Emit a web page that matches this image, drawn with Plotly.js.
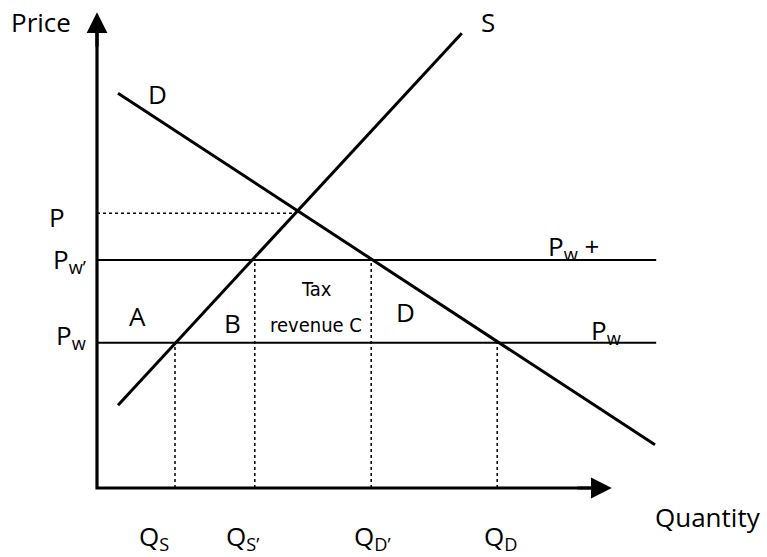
<!DOCTYPE html>
<html>
<head>
<meta charset="utf-8">
<script src="https://cdn.plot.ly/plotly-3.0.1.min.js"></script>
<style>html,body{margin:0;padding:0;background:#fff;}#chart{width:767px;height:557px;}</style>
</head>
<body>
<div id="chart"></div>
<script>
// ---- Data (arbitrary units) ----
const supplyQ = [3.5, 60.8];
const supplyP = [13.8, 75.8];
const demandQ = [3.5, 93];
const demandP = [65.8, 7.2];
const worldPrice = 24.2;      // Pw
const tariffPrice = 38;       // Pw'
const autarkyPrice = 45.8;    // P
const autarkyQ = 33.2;
const priceLineEnd = 93.2;
const quantityNames = ["Q<sub>S</sub>", "Q<sub>S’</sub>", "Q<sub>D’</sub>", "Q<sub>D</sub>"];
const quantityValues = [13, 26.3, 45.7, 66.7];
const quantityPrices = [worldPrice, tariffPrice, tariffPrice, worldPrice];
const axisXEnd = 85.8;
const axisYEnd = 79.3;

const FONT = "Open Sans, sans-serif";
const NARROW = "Liberation Sans Narrow, DejaVu Sans Condensed, Open Sans, sans-serif";
const traces = [];
// dotted guide lines
quantityValues.forEach((q, i) => {
  traces.push({x: [q, q], y: [0, quantityPrices[i]], mode: "lines",
    line: {color: "#000", width: 1.5, dash: "dot"}, hoverinfo: "skip"});
});
traces.push({x: [0, autarkyQ], y: [autarkyPrice, autarkyPrice], mode: "lines",
  line: {color: "#000", width: 1.5, dash: "dot"}, hoverinfo: "skip"});
// price lines
traces.push({x: [0, priceLineEnd], y: [tariffPrice, tariffPrice], mode: "lines",
  line: {color: "#000", width: 2}});
traces.push({x: [0, priceLineEnd], y: [worldPrice, worldPrice], mode: "lines",
  line: {color: "#000", width: 2}});
// supply & demand
traces.push({x: supplyQ, y: supplyP, mode: "lines", line: {color: "#000", width: 3}});
traces.push({x: demandQ, y: demandP, mode: "lines", line: {color: "#000", width: 3}});
// axis lines (corner at origin)
traces.push({x: [axisXEnd - 2, 0, 0], y: [0, 0, axisYEnd - 2], mode: "lines",
  line: {color: "#000", width: 3.2}});

// pixel -> paper helper for text placement
const W = 767, H = 557;
function lbl(text, px, py, opts) {
  return Object.assign({text: text, xref: "paper", yref: "paper", x: px / W, y: 1 - py / H,
    showarrow: false, xanchor: "center", yanchor: "middle",
    font: {family: FONT, size: 26, color: "#000"}}, opts || {});
}
const annotations = [
  // arrowheads at axis ends
  {x: axisXEnd, y: 0, ax: axisXEnd - 6, ay: 0, xref: "x", yref: "y", axref: "x", ayref: "y", text: "",
    showarrow: true, arrowhead: 2, arrowsize: 1.3, arrowwidth: 3.2, arrowcolor: "#000", standoff: 0},
  {x: 0, y: axisYEnd, ax: 0, ay: axisYEnd - 6, xref: "x", yref: "y", axref: "x", ayref: "y", text: "",
    showarrow: true, arrowhead: 2, arrowsize: 1.3, arrowwidth: 3.2, arrowcolor: "#000", standoff: 0},
  lbl("Price", 41, 22),
  lbl("Quantity", 708, 517),
  lbl("S", 488, 22),
  lbl("D", 157, 94),
  lbl("P", 57, 217),
  lbl("P<sub>w’</sub>", 51, 260, {xanchor: "left"}),
  lbl("P<sub>w</sub>", 54, 336, {xanchor: "left"}),
  lbl("A", 137, 316),
  lbl("B", 232, 323),
  lbl("Tax", 316, 289, {font: {family: NARROW, size: 20, color: "#000"}}),
  lbl("revenue C", 316, 325, {font: {family: NARROW, size: 20, color: "#000"}}),
  lbl("D", 405, 312),
  lbl("P<sub>w</sub> +", 546, 247, {xanchor: "left"}),
  lbl("P<sub>w</sub>", 589, 331, {xanchor: "left"})
];
const qLeft = [137, 224, 352, 482];
quantityNames.forEach((t, i) => annotations.push(lbl(t, qLeft[i], 537, {xanchor: "left"})));

const layout = {
  width: W, height: H,
  margin: {l: 0, r: 0, t: 0, b: 0},
  paper_bgcolor: "#fff", plot_bgcolor: "#fff",
  showlegend: false,
  xaxis: {range: [-97 / 6, (W - 97) / 6], visible: false, fixedrange: true},
  yaxis: {range: [(488 - H) / 6, 488 / 6], visible: false, fixedrange: true},
  annotations: annotations
};
Plotly.newPlot("chart", traces, layout, {staticPlot: true});
</script>
</body>
</html>
